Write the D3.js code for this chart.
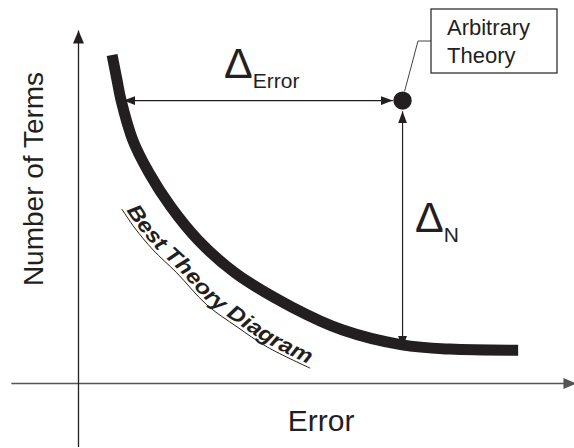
<!DOCTYPE html>
<html>
<head>
<meta charset="utf-8">
<title>Best Theory Diagram</title>
<script src="https://cdn.jsdelivr.net/npm/d3@7"></script>
<style>
	body { margin: 0; background: #fff; }
	svg  { display: block; }
	text { font-family: "Liberation Sans", Arial, sans-serif; fill: #231f20; }
</style>
</head>
<body>
<div id="picture"></div>
<script>
// values, arbitrary units (error 0..100, terms 0..100)
const frontError  = [6.9, 7.9, 8.7, 11.1, 14.4, 18.8, 24.3, 31.8, 43.3, 53.6, 65.6, 75.3, 89.1]
	, frontTerms  = [92.9, 85.8, 80.2, 68.8, 59.5, 49.9, 40.5, 31.2, 21.5, 15.0, 10.8, 9.6, 9.3]
	, theoryPoint = [65.7, 80.0]
	, deltaError  = [[8.7, 80.0], [65.7, 80.0]]
	, deltaN      = [[65.7, 80.0], [65.7, 10.8]]
	, labelError  = [8.85, 11.5, 15.2, 20.0, 26.1, 32.2, 38.3, 47.0]
	, labelTerms  = [49.3, 43.9, 37.7, 31.2, 22.1, 15.9, 10.2, 4.2]
	, xExtent     = [-13.6, 100.8]
	, yExtent     = [-18, 100]
	, axisTitles  = ["Error", "Number of Terms"]
	, boxLines    = ["Arbitrary", "Theory"]
	, curveLabel  = "Best Theory Diagram";

const width  = 574
	, height = 448
	, ink    = "#231f20"
	, rDot   = 9.2
	, box    = { x: 431, y: 9, w: 126, h: 64 };

const x = d3.scaleLinear().domain([0, 100]).range([78, 572])
	, y = d3.scaleLinear().domain([0, 100]).range([383, 30]);

const svg = d3.select("#picture")
	.append("svg")
		.attr("width", width)
		.attr("height", height);

// arrow heads
const defs = svg.append("defs");
function arrowHead(id, len, wide, color) {
	defs.append("marker")
		.attr("id", id)
		.attr("markerUnits", "userSpaceOnUse")
		.attr("markerWidth", len)
		.attr("markerHeight", wide)
		.attr("refX", len)
		.attr("refY", wide / 2)
		.attr("orient", "auto-start-reverse")
		.append("path")
			.attr("d", "M0,0L" + len + "," + (wide / 2) + "L0," + wide + "Z")
			.attr("fill", color);
};
arrowHead("headAxis", 13, 11, ink);
arrowHead("headAxisX", 13, 11, "#555");
arrowHead("head", 12, 9, ink);

// axes, no ticks
const xAxisScale = d3.scaleLinear().domain(xExtent).range(xExtent.map(x))
	, yAxisScale = d3.scaleLinear().domain(yExtent).range(yExtent.map(y));

svg.append("g")
	.attr("class", "axis x")
	.attr("transform", "translate(0," + y(0) + ")")
	.call(d3.axisBottom(xAxisScale).tickValues([]).tickSizeOuter(0))
	.select(".domain")
		.attr("stroke", "#555")
		.attr("stroke-width", 1.6)
		.attr("marker-end", "url(#headAxisX)");

svg.append("g")
	.attr("class", "axis y")
	.attr("transform", "translate(" + x(0) + ",0)")
	.call(d3.axisLeft(yAxisScale).tickValues([]).tickSizeOuter(0))
	.select(".domain")
		.attr("stroke", ink)
		.attr("stroke-width", 1.3)
		.attr("marker-end", "url(#headAxis)");

svg.append("text")
	.attr("x", x(49.2))
	.attr("y", 431)
	.attr("text-anchor", "middle")
	.attr("font-size", 30)
	.text(axisTitles[0]);
svg.append("text")
	.attr("transform", "translate(43," + 179 + ") rotate(-90)")
	.attr("text-anchor", "middle")
	.attr("font-size", 28)
	.text(axisTitles[1]);

// best theory front
const line = d3.line()
	.x(d => x(d[0]))
	.y(d => y(d[1]))
	.curve(d3.curveCatmullRom);

svg.append("path")
	.attr("d", line(d3.zip(frontError, frontTerms)))
	.attr("fill", "none")
	.attr("stroke", ink)
	.attr("stroke-width", 11);

// curved label with its underline
svg.append("path")
	.attr("id", "labelPath")
	.attr("d", line(d3.zip(labelError, labelTerms)))
	.attr("fill", "none")
	.attr("stroke", ink)
	.attr("stroke-width", 1);

svg.append("text")
	.attr("font-family", "'Liberation Sans Narrow', 'DejaVu Sans Condensed', 'Liberation Sans', sans-serif")
	.attr("font-weight", "bold")
	.attr("font-style", "italic")
	.attr("font-size", 21)
	.append("textPath")
		.attr("href", "#labelPath")
		.attr("startOffset", 4)
		.attr("textLength", 243)
		.attr("lengthAdjust", "spacingAndGlyphs")
		.append("tspan")
			.attr("dy", -3)
			.text(curveLabel);

// deltas between the arbitrary theory and the front
function arrow(pts, startPad, endPad) {
	const p0 = [x(pts[0][0]), y(pts[0][1])]
		, p1 = [x(pts[1][0]), y(pts[1][1])]
		, len = Math.hypot(p1[0] - p0[0], p1[1] - p0[1])
		, ux = (p1[0] - p0[0]) / len
		, uy = (p1[1] - p0[1]) / len;
	svg.append("line")
		.attr("x1", p0[0] + ux * startPad)
		.attr("y1", p0[1] + uy * startPad)
		.attr("x2", p1[0] - ux * endPad)
		.attr("y2", p1[1] - uy * endPad)
		.attr("stroke", ink)
		.attr("stroke-width", 1.2)
		.attr("marker-start", "url(#head)")
		.attr("marker-end", "url(#head)");
};
arrow(deltaError, 2.5, rDot + 0.5);
arrow(deltaN, rDot + 1.5, -3);

svg.append("circle")
	.attr("cx", x(theoryPoint[0]))
	.attr("cy", y(theoryPoint[1]))
	.attr("r", rDot)
	.attr("fill", ink);

const dError = svg.append("text")
	.attr("x", 224)
	.attr("y", 78)
	.attr("font-size", 43)
	.text("\u0394");
dError.append("tspan")
	.attr("dy", 10)
	.attr("font-size", 21)
	.text("Error");

const dN = svg.append("text")
	.attr("x", 415)
	.attr("y", 232)
	.attr("font-size", 43)
	.text("\u0394");
dN.append("tspan")
	.attr("dy", 10)
	.attr("font-size", 21)
	.text("N");

// callout box
const px = x(theoryPoint[0])
	, py = y(theoryPoint[1]);
svg.append("path")
	.attr("d", "M" + (px + 2) + "," + (py - rDot) +
		"L" + (box.x - 13) + "," + (box.y + box.h / 2) +
		"H" + box.x)
	.attr("fill", "none")
	.attr("stroke", "#444")
	.attr("stroke-width", 1);

svg.append("rect")
	.attr("x", box.x)
	.attr("y", box.y)
	.attr("width", box.w)
	.attr("height", box.h)
	.attr("fill", "#fff")
	.attr("stroke", ink)
	.attr("stroke-width", 1.2);

svg.selectAll(".boxline")
	.data(boxLines)
	.join("text")
		.attr("class", "boxline")
		.attr("x", box.x + 16)
		.attr("y", (d, i) => box.y + 26 + i * 28)
		.attr("font-size", 22)
		.text(d => d);
</script>
</body>
</html>
